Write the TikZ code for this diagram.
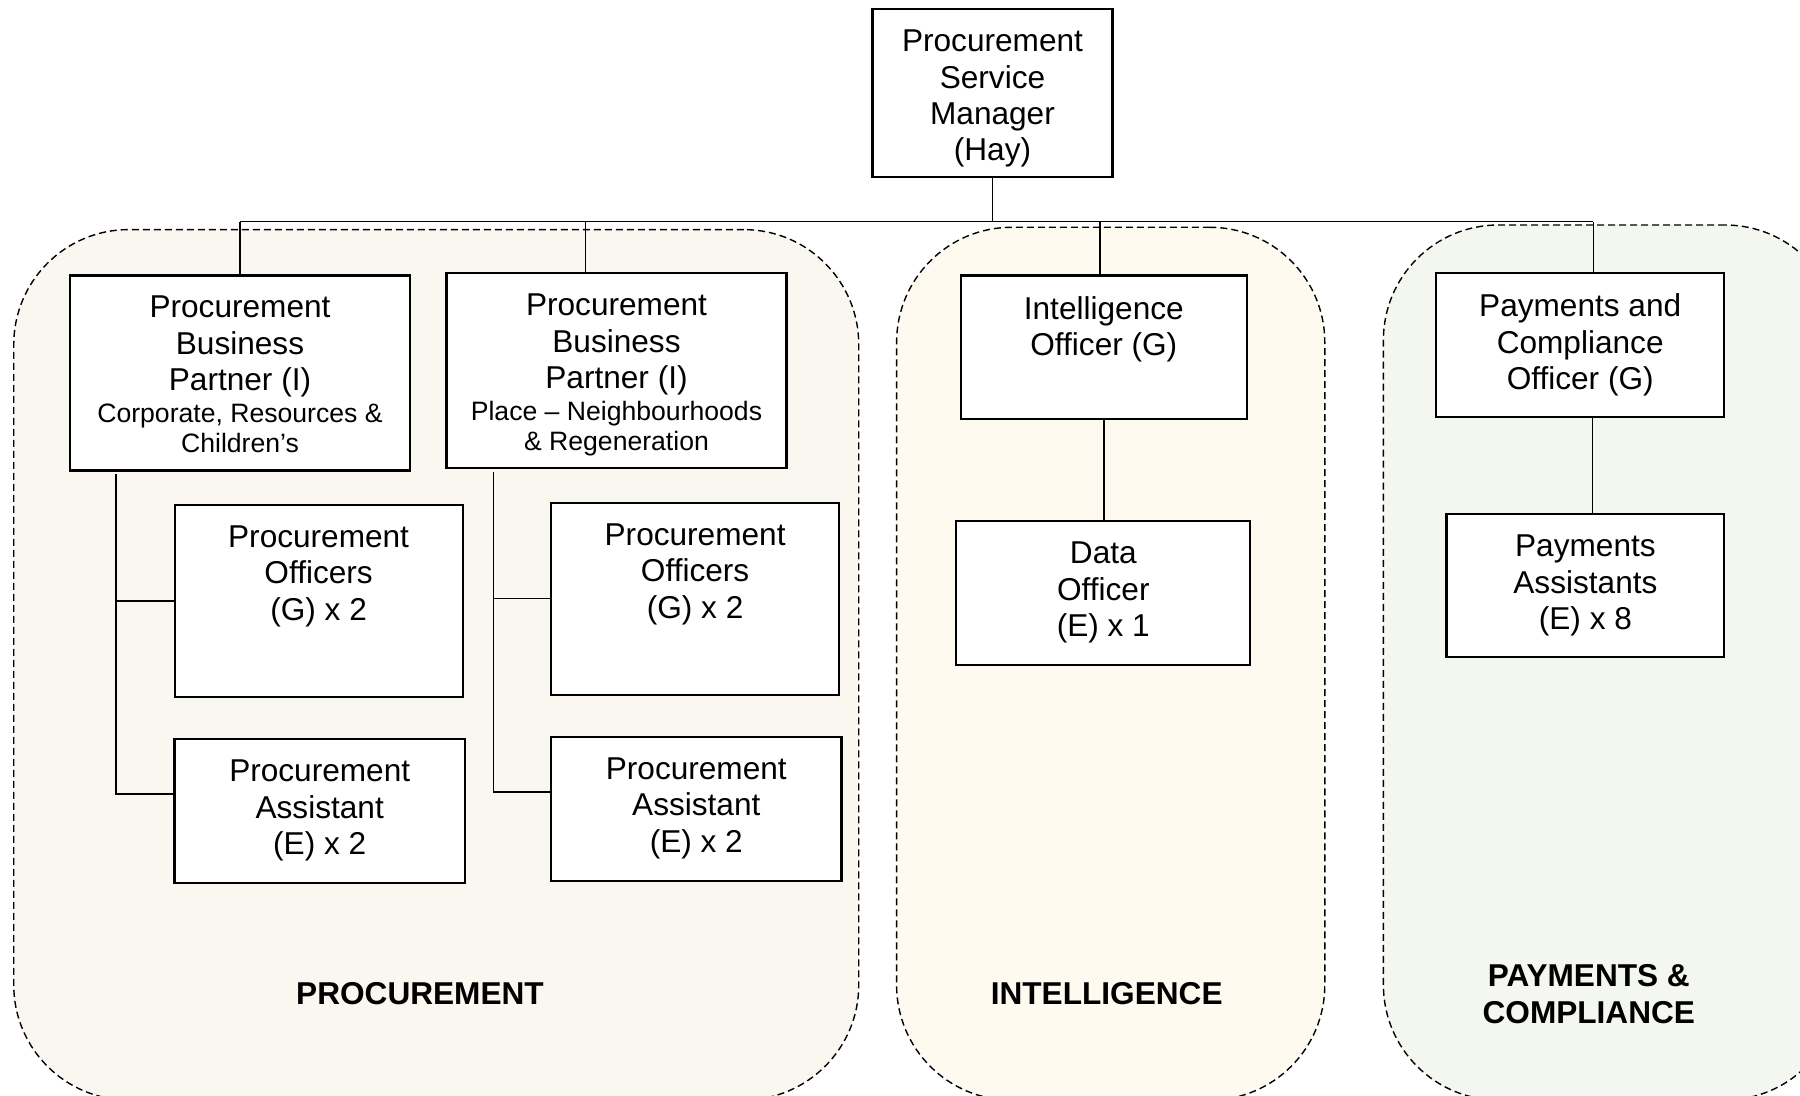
\documentclass[tikz,border=0pt]{standalone}
\usepackage{fontspec}
\setmainfont{Liberation Sans}
\usetikzlibrary{positioning}

\definecolor{ProcFill}{HTML}{FAF6F0}
\definecolor{IntelFill}{HTML}{FEFAF0}
\definecolor{PayFill}{HTML}{F4F7F0}

\tikzset{
Post/.style={draw=black, fill=white, rectangle, inner sep=0pt, line width=1.1pt},
PostText/.style={anchor=north, inner sep=0pt, align=center, font=\fontsize{15.8}{18.2}\selectfont},
SubText/.style={inner sep=0pt, align=center, font=\fontsize{13.3}{14.9}\selectfont},
Wire/.style={draw=black, line width=0.7pt},
Section/.style={draw=black, rectangle, inner sep=0pt, line width=0.7pt, dash pattern=on 3.5pt off 2pt, rounded corners=57.5pt},
SectionTitle/.style={inner sep=0pt, align=center, font=\bfseries\fontsize{15.8}{18.3}\selectfont},
}

\begin{document}
\begin{tikzpicture}[x=0.5pt, y=-0.5pt]
	\useasboundingbox (0,0) rectangle (1800,1096);

	% teams
	\node[Section, fill=ProcFill, minimum width=422.5pt, minimum height=435.2pt] (SProc) at (436.25,664.8) {};
	\node[Section, fill=IntelFill, minimum width=214.1pt, minimum height=436.4pt] (SIntel) at (1110.7,663.7) {};
	\node[Section, fill=PayFill, minimum width=228.3pt, minimum height=437.5pt] (SPay) at (1611.7,662.5) {};
	\node[SectionTitle] (SProcT) at (420,994) {PROCUREMENT};
	\node[SectionTitle] (SIntelT) at (1106.7,994) {INTELLIGENCE};
	\node[SectionTitle] (SPayT) at (1588.8,994) {PAYMENTS \&\\COMPLIANCE};

	% posts
	\node[Post, minimum width=120pt, minimum height=83.8pt] (Top) at (992.5,93) {};
	\node[PostText, below=10.7pt of Top.north] (TopT) {Procurement\\Service\\Manager\\(Hay)};

	\node[Post, minimum width=170pt, minimum height=97.5pt] (PBP1) at (240,373) {};
	\node[PostText, below=10.7pt of PBP1.north] (PBP1T) {Procurement\\Business\\Partner (I)};
	\node[SubText, below=2.8pt of PBP1T] (PBP1S) {Corporate, Resources \&\\Children’s};

	\node[Post, minimum width=170pt, minimum height=97.5pt] (PBP2) at (616.5,370.8) {};
	\node[PostText, below=10.7pt of PBP2.north] (PBP2T) {Procurement\\Business\\Partner (I)};
	\node[SubText, below=2.8pt of PBP2T] (PBP2S) {Place -- Neighbourhoods\\\& Regeneration};

	\node[Post, minimum width=143pt, minimum height=71.8pt] (Intel) at (1103.8,347.3) {};
	\node[PostText, below=10.7pt of Intel.north] (IntelT) {Intelligence\\Officer (G)};

	\node[Post, minimum width=144pt, minimum height=71.8pt] (PCO) at (1580.2,345) {};
	\node[PostText, below=10.7pt of PCO.north] (PCOT) {Payments and\\Compliance\\Officer (G)};

	\node[Post, minimum width=144pt, minimum height=95.9pt] (PO1) at (318.6,601) {};
	\node[PostText, below=10.7pt of PO1.north] (PO1T) {Procurement\\Officers\\(G) x 2};
	\node[Post, minimum width=145.2pt, minimum height=71.8pt] (PA1) at (319.7,811) {};
	\node[PostText, below=10.7pt of PA1.north] (PA1T) {Procurement\\Assistant\\(E) x 2};

	\node[Post, minimum width=144pt, minimum height=95.9pt] (PO2) at (695.1,598.7) {};
	\node[PostText, below=10.7pt of PO2.north] (PO2T) {Procurement\\Officers\\(G) x 2};
	\node[Post, minimum width=145.2pt, minimum height=71.8pt] (PA2) at (696.3,808.8) {};
	\node[PostText, below=10.7pt of PA2.north] (PA2T) {Procurement\\Assistant\\(E) x 2};

	\node[Post, minimum width=147pt, minimum height=71.8pt] (Data) at (1103.3,593) {};
	\node[PostText, below=10.7pt of Data.north] (DataT) {Data\\Officer\\(E) x 1};

	\node[Post, minimum width=138.9pt, minimum height=71.2pt] (PAss) at (1585.4,585.5) {};
	\node[PostText, below=10.7pt of PAss.north] (PAssT) {Payments\\Assistants\\(E) x 8};

	% reporting lines
	\coordinate (Bus) at (0,221.6);
	\coordinate (PBP2Tap) at ([xshift=-15.5pt]PBP2.north);
	\coordinate (IntelTap) at ([xshift=-2pt]Intel.north);
	\coordinate (PCOTap) at ([xshift=6.6pt]PCO.north);
	\coordinate (PAssTap) at ([xshift=6pt]PCO.south);
	\draw[Wire] (Top.south) -- (Top.south |- Bus);
	\draw[Wire] (PBP1.north |- Bus) -- (PCOTap |- Bus);
	\draw[Wire] (PBP1.north |- Bus) -- (PBP1.north);
	\draw[Wire] (PBP2Tap |- Bus) -- (PBP2Tap);
	\draw[Wire] (IntelTap |- Bus) -- (IntelTap);
	\draw[Wire] (PCOTap |- Bus) -- (PCOTap);
	\draw[Wire] (Intel.south) -- (Intel.south |- Data.north);
	\draw[Wire] (PAssTap) -- (PAssTap |- PAss.north);

	\coordinate (SpineTop1) at (116,474);
	\coordinate (SpineEnd1) at (116,794);
	\coordinate (SpineTop2) at (493.6,472);
	\coordinate (SpineEnd2) at (493.6,792);
	\foreach \col in {1,2} {
		\draw[Wire] (SpineTop\col) -- (SpineEnd\col) -- (SpineEnd\col -| PA\col.west);
		\draw[Wire] (SpineTop\col |- PO\col.west) -- (PO\col.west);
	}
\end{tikzpicture}
\end{document}
